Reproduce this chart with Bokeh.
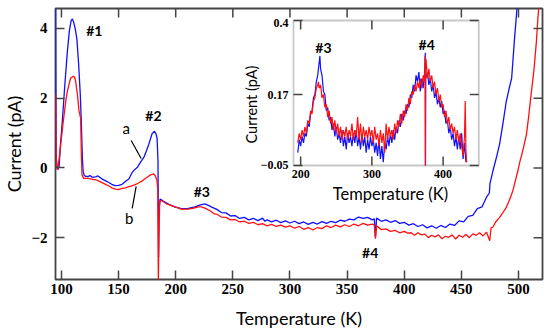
import math
from bokeh.plotting import figure
from bokeh.models import Range1d, FixedTicker, BoxAnnotation
from bokeh.core.properties import value
from bokeh.embed import file_html
from bokeh.resources import INLINE

# ---------------- data: main plot ----------------
X_TICKS = [100, 150, 200, 250, 300, 350, 400, 450, 500]
Y_TICKS = [-2, 0, 2, 4]
Y_TICK_LABELS = {-2: "\u22122", 0: "0", 2: "2", 4: "4"}

# curve a (blue)
A_T = [94.9, 95.3, 96.0, 97.0, 98.0, 99.0, 101.0, 103.0, 105.2, 107.0, 108.5, 109.6, 110.5, 112.0,
       113.5, 115.0, 116.5, 117.5, 118.3, 119.0, 120.0, 121.0, 123, 125, 127, 129.8, 132, 135.6, 138,
       141.5, 144, 147.2, 150, 153, 155, 157, 159, 161.9, 164, 166.3, 169.1, 172.1, 174.5, 176.5,
       179.3, 181.4, 182.7, 183.7, 184.5, 185.0, 185.4, 186.4, 189, 193.6, 199, 205, 211, 216.8,
       221, 225.5, 229, 232, 236, 240, 244, 248, 252, 256, 260, 264, 268, 272, 276, 278, 280, 284,
       288, 292, 296, 300, 304, 308, 312, 316, 320, 324, 328, 332, 336, 340, 344, 348, 352, 356,
       360, 364, 368, 372, 373.8, 374.8, 375.8, 380, 384, 388, 392, 396, 400, 404, 408, 412, 416,
       420, 424, 428, 432, 436, 440, 444, 448, 452, 456, 460, 464, 468, 472, 474.5, 475.0, 477.6,
       480.6, 483.5, 486.5, 489.3, 492, 494, 496.5, 499]
A_I = [4.7, 0.4, 0.05, -0.05, 0.05, 0.6, 1.45, 2.4, 3.34, 3.95, 4.22, 4.27, 4.2, 4.0,
       3.7, 3.0, 2.1, 1.2, 0.3, -0.1, -0.22, -0.24, -0.25, -0.22, -0.27, -0.26, -0.23, -0.32, -0.36,
       -0.42, -0.47, -0.51, -0.50, -0.47, -0.42, -0.36, -0.32, -0.13, -0.05, 0.01, 0.16, 0.30, 0.50, 0.68,
       0.98, 1.05, 0.98, 0.85, 0.2, -2.56, -1.2, -0.89, -0.95, -1.04, -1.12, -1.17, -1.16, -1.12,
       -1.07, -1.03, -1.08, -1.13, -1.19, -1.28, -1.29, -1.38, -1.37, -1.45, -1.42, -1.49, -1.45, -1.51, -1.44, -1.53, -1.49, -1.55,
       -1.50, -1.57, -1.52, -1.58, -1.53, -1.60, -1.55, -1.62, -1.56, -1.61, -1.54, -1.59, -1.53, -1.57, -1.50, -1.53, -1.47, -1.49,
       -1.41, -1.45, -1.42, -1.49, -1.46, -1.99, -1.44, -1.53, -1.49, -1.56, -1.51, -1.59, -1.56, -1.64, -1.60, -1.68, -1.63,
       -1.72, -1.66, -1.73, -1.65, -1.71, -1.61, -1.65, -1.52, -1.55, -1.39, -1.36, -1.17, -1.12, -0.84, -0.72, -0.45, -0.09,
       0.29, 0.69, 1.3, 1.91, 2.3, 2.57, 3.7, 4.7]

# curve b (red)
B_T = [94.9, 95.4, 96.2, 97.2, 98.3, 99.4, 101.5, 103.7, 105.2, 106.7, 108, 110.4, 111.5, 112.4,
       114, 115.4, 116.8, 117.5, 118, 119.5, 121, 124, 127, 130, 132.8, 136, 139, 141.5, 144, 147.2,
       150, 153, 156, 158.9, 161, 164.6, 167, 170.4, 173, 176.3, 178, 180.6, 182, 183.5, 184.3, 184.8,
       185.3, 186, 187.8, 192, 199.4, 205, 211, 216, 219.7, 222.6, 226, 230, 234,
       236, 240, 244, 248, 252, 256, 260, 264, 268, 272, 276, 280, 284, 288, 292, 296, 300, 304,
       308, 312, 316, 320, 324, 328, 332, 336, 340, 344, 348, 352, 356, 360, 364, 368, 372, 373.8,
       374.8, 375.8, 380, 384, 388, 392, 396, 400, 403, 406, 409, 412, 415, 418, 421, 424, 427, 430,
       433, 436, 439, 442, 445, 448, 451, 454, 457, 460, 463, 466, 469, 472, 474.8, 476, 477.6, 480,
       483.5, 486, 489.3, 492, 495, 497, 499.4, 501, 503.7, 507, 509, 511, 513.5, 515.6, 517, 518]
B_I = [2.1, 0.3, -0.05, 0.05, 0.35, 0.68, 1.3, 1.9, 2.2, 2.4, 2.57, 2.63, 2.6, 2.49,
       2.1, 1.63, 1.43, 0.3, -0.2, -0.3, -0.3, -0.3, -0.33, -0.34, -0.38, -0.43, -0.48, -0.52, -0.57, -0.61,
       -0.62, -0.59, -0.57, -0.54, -0.52, -0.48, -0.44, -0.38, -0.31, -0.24, -0.2, -0.17, -0.22, -0.35, -0.6, -3.3,
       -2.0, -0.95, -0.94, -1.03, -1.12, -1.18, -1.18, -1.15, -1.12, -1.12, -1.16, -1.23, -1.32,
       -1.33, -1.41, -1.42, -1.49, -1.48, -1.55, -1.53, -1.59, -1.56, -1.63, -1.60, -1.66, -1.62, -1.68, -1.64, -1.70, -1.66, -1.73,
       -1.68, -1.76, -1.71, -1.78, -1.71, -1.74, -1.66, -1.71, -1.64, -1.69, -1.63, -1.68, -1.61, -1.66, -1.59, -1.64, -1.61, -1.64,
       -2.03, -1.66, -1.77, -1.75, -1.82, -1.79, -1.86, -1.82, -1.87, -1.86, -1.93, -1.86, -1.92, -1.90, -2.00, -1.93, -1.98, -1.92,
       -2.03, -1.96, -1.99, -1.92, -2.04, -1.93, -1.99, -1.91, -2.00, -1.89, -1.93, -1.86, -1.95, -1.84, -2.09, -1.72, -1.70, -1.55,
       -1.42, -1.30, -1.13, -0.93, -0.66, -0.40, -0.09, 0.15, 0.49, 0.97, 1.5, 2.1, 2.8, 3.6, 4.3, 4.7]

# ---------------- data: inset ----------------
INSET_X_TICKS = [200, 300, 400]
INSET_X_TICK_LABELS = ["200", "300", "400"]
INSET_Y_TICKS = [-0.05, 0.17, 0.4]
INSET_Y_TICK_LABELS = ["\u22120.05", "0.17", "0.4"]

IA_T = [196, 198, 200, 202, 204, 206, 208, 210, 212, 214, 216, 218, 220, 222, 224, 226, 227, 228,
        230, 232, 234, 236, 238, 240, 242, 244, 246, 248, 250, 252, 254, 256, 258, 260, 262, 264,
        266, 268, 270, 272, 274, 276, 278, 280, 282, 284, 286, 288, 290, 292, 294, 296, 298, 300,
        302, 304, 306, 308, 310, 312, 314, 316, 318, 320, 322, 324, 326, 328, 330, 332, 334, 336,
        338, 340, 342, 344, 346, 348, 350, 352, 354, 356, 358, 360, 362, 364, 366, 368, 370, 372,
        374, 375, 375.3, 375.6, 378, 380, 382, 384, 386, 388, 390, 392, 394, 396, 398, 400, 402,
        404, 406, 408, 410, 412, 414, 416, 418, 420, 422, 424, 426, 428, 430, 432]
IA_I = [-0.01, 0.03, 0.01, 0.04, 0.02, 0.05, 0.04, 0.08, 0.07, 0.11, 0.12, 0.16, 0.17, 0.21, 0.23, 0.27, 0.29, 0.25,
        0.23, 0.18, 0.17, 0.12, 0.13, 0.09, 0.10, 0.06, 0.08, 0.04, 0.07, 0.03, 0.05, 0.02, 0.06, 0.01, 0.04, 0.00,
        0.05, 0.02, 0.04, 0.01, 0.05, 0.02, 0.06, 0.01, 0.04, 0.00, 0.05, 0.01, 0.04, -0.01, 0.03, 0.00, 0.04, 0.01,
        0.03, -0.01, 0.02, -0.02, 0.03, -0.03, 0.01, -0.04, 0.02, 0.00, 0.04, 0.01, 0.05, 0.02, 0.06, 0.03, 0.07, 0.05,
        0.09, 0.07, 0.11, 0.09, 0.12, 0.11, 0.14, 0.13, 0.17, 0.16, 0.20, 0.18, 0.23, 0.21, 0.24, 0.18, 0.22, 0.19,
        0.24, 0.30, -0.05, 0.22, 0.24, 0.20, 0.22, 0.18, 0.20, 0.16, 0.18, 0.14, 0.16, 0.13, 0.15, 0.11, 0.12,
        0.08, 0.09, 0.05, 0.07, 0.03, 0.05, 0.01, 0.04, 0.00, 0.04, 0.00, 0.05, -0.03, 0.02, -0.04]

IB_T = [196, 198, 200, 202, 204, 206, 208, 210, 212, 214, 216, 218, 220, 222, 224, 225, 226, 228,
        230, 232, 234, 236, 238, 240, 242, 244, 246, 248, 250, 252, 254, 256, 258, 260, 262, 264,
        266, 268, 270, 272, 274, 276, 278, 280, 282, 284, 286, 288, 290, 292, 294, 296, 298, 300,
        302, 304, 306, 308, 310, 312, 314, 316, 318, 320, 322, 324, 326, 328, 330, 332, 334, 336,
        338, 340, 342, 344, 346, 348, 350, 352, 354, 356, 358, 360, 362, 364, 366, 368, 370, 372,
        374, 374.7, 375.0, 375.3, 376, 378, 380, 382, 384, 386, 388, 390, 392, 394, 396, 398, 400,
        402, 404, 406, 408, 410, 412, 414, 416, 418, 420, 422, 424, 426, 428, 430, 431, 432, 433]
IB_I = [0.02, 0.05, 0.03, 0.06, 0.04, 0.07, 0.05, 0.09, 0.08, 0.12, 0.11, 0.15, 0.16, 0.19, 0.20, 0.21, 0.19, 0.20,
        0.16, 0.17, 0.13, 0.14, 0.10, 0.12, 0.08, 0.10, 0.06, 0.09, 0.05, 0.08, 0.04, 0.07, 0.03, 0.06, 0.04, 0.07,
        0.03, 0.06, 0.04, 0.08, 0.03, 0.06, 0.04, 0.10, 0.03, 0.08, 0.02, 0.07, 0.04, 0.06, 0.03, 0.07, 0.04, 0.06,
        0.02, 0.07, 0.03, 0.05, 0.01, 0.06, 0.02, 0.05, -0.01, 0.08, 0.03, 0.07, 0.04, 0.06, 0.03, 0.08, 0.05, 0.09,
        0.07, 0.11, 0.08, 0.12, 0.10, 0.14, 0.12, 0.16, 0.14, 0.18, 0.17, 0.20, 0.18, 0.21, 0.19, 0.22, 0.19, 0.23,
        0.21, 0.29, -0.05, 0.27, 0.28, 0.22, 0.25, 0.21, 0.23, 0.19, 0.21, 0.17, 0.19, 0.15, 0.17, 0.13, 0.14,
        0.10, 0.12, 0.08, 0.10, 0.06, 0.08, 0.05, 0.07, 0.03, 0.06, 0.02, 0.05, 0.01, -0.02, 0.04, 0.15, 0.00, -0.04]

# ---------------- layout constants ----------------
X0, X1 = 94.8, 521.0
Y0, Y1 = -3.2, 4.57
BOX_L, BOX_R, BOX_B, BOX_T = 303.1, 465.2, 0.069, 4.226   # inset frame, in main-data units
IX0, IX1 = 190.0, 450.0
IY0, IY1 = -0.05, 0.4

sx = (IX1 - IX0) / (BOX_R - BOX_L)
sy = (IY1 - IY0) / (BOX_T - BOX_B)
ix_start = IX0 - (BOX_L - X0) * sx
ix_end = IX1 + (X1 - BOX_R) * sx
iy_start = IY0 - (BOX_B - Y0) * sy
iy_end = IY1 + (Y1 - BOX_T) * sy

BLUE = "#1010ff"
RED = "#ff1010"
FRAME = "#444444"
SERIF = "Liberation Serif"
SANS = "Lato"
TICK = 9

p = figure(width=550, height=336, x_range=Range1d(X0, X1), y_range=Range1d(Y0, Y1),
           output_backend="svg", toolbar_location=None,
           min_border_left=53, min_border_right=8, min_border_top=8, min_border_bottom=57,
           x_axis_label="Temperature (K)", y_axis_label="Current (pA)")
p.grid.visible = False
p.outline_line_color = FRAME
p.outline_line_width = 1.8
p.background_fill_color = "white"
p.border_fill_color = "white"

for ax in (p.xaxis[0], p.yaxis[0]):
    ax.major_tick_in = TICK
    ax.major_tick_out = 0
    ax.minor_tick_in = 0
    ax.minor_tick_out = 0
    ax.axis_line_color = None
    ax.major_tick_line_color = FRAME
    ax.major_tick_line_width = 1.5
    ax.major_label_text_font = SERIF
    ax.major_label_text_font_style = "bold"
    ax.major_label_text_font_size = "15px"
    ax.major_label_text_color = "black"
    ax.axis_label_text_font = SANS
    ax.axis_label_text_font_size = "18px"
    ax.axis_label_text_font_style = "normal"
    ax.axis_label_text_color = "black"

p.xaxis[0].ticker = FixedTicker(ticks=X_TICKS)
p.yaxis[0].ticker = FixedTicker(ticks=Y_TICKS)
p.yaxis[0].major_label_overrides = Y_TICK_LABELS
p.xaxis[0].major_label_standoff = 4
p.xaxis[0].axis_label_standoff = 10
p.yaxis[0].major_label_standoff = 8
p.yaxis[0].axis_label_standoff = 3

# top / right ticks of main frame
p.ray(x=X_TICKS, y=[Y1] * len(X_TICKS), length=TICK, length_units="screen", angle=-math.pi / 2,
      line_color=FRAME, line_width=1.5)
p.ray(x=[X1] * len(Y_TICKS), y=Y_TICKS, length=TICK, length_units="screen", angle=math.pi,
      line_color=FRAME, line_width=1.5)

# main curves
p.line(A_T, A_I, line_color=BLUE, line_width=1.3, level="image")
p.line(B_T, B_I, line_color=RED, line_width=1.3, level="image")

# annotations main
lab_font = value(SANS)
p.text(x=[128.8, 180.5], y=[3.94, 1.50], text=["#1", "#2"], text_font=lab_font,
       text_font_size="14px", text_font_style="bold", text_align="center", text_baseline="middle",
       text_color="black")
p.text(x=[222.9, 370.2], y=[-0.69, -2.44], text=["#3", "#4"], text_font=lab_font,
       text_font_size="14px", text_font_style="bold", text_align="center", text_baseline="middle",
       text_color="black")
p.text(x=[156.7, 159.3], y=[1.13, -1.45], text=["a", "b"], text_font=lab_font,
       text_font_size="15px", text_align="center", text_baseline="middle", text_color="black")
p.segment(x0=[161.0, 161.9], y0=[0.786, -1.16], x1=[169.8, 165.4], y1=[0.27, -0.53],
          line_color="black", line_width=1.2)

# ---------------- inset ----------------
p.extra_x_ranges = {"ix": Range1d(ix_start, ix_end)}
p.extra_y_ranges = {"iy": Range1d(iy_start, iy_end)}

box = BoxAnnotation(left=BOX_L, right=BOX_R, bottom=BOX_B, top=BOX_T, fill_color="white",
                    fill_alpha=1.0, line_color=FRAME, line_width=1.8, level="underlay")
p.add_layout(box)

kw = dict(x_range_name="ix", y_range_name="iy")
p.line(IA_T, IA_I, line_color=BLUE, line_width=1.2, **kw)
p.line(IB_T, IB_I, line_color=RED, line_width=1.2, **kw)

n = len(INSET_X_TICKS)
m = len(INSET_Y_TICKS)
p.ray(x=INSET_X_TICKS, y=[IY0] * n, length=TICK, length_units="screen", angle=math.pi / 2,
      line_color=FRAME, line_width=1.5, **kw)
p.ray(x=INSET_X_TICKS, y=[IY1] * n, length=TICK, length_units="screen", angle=-math.pi / 2,
      line_color=FRAME, line_width=1.5, **kw)
p.ray(x=[IX0] * m, y=INSET_Y_TICKS, length=TICK, length_units="screen", angle=0,
      line_color=FRAME, line_width=1.5, **kw)
p.ray(x=[IX1] * m, y=INSET_Y_TICKS, length=TICK, length_units="screen", angle=math.pi,
      line_color=FRAME, line_width=1.5, **kw)

p.text(x=INSET_X_TICKS, y=[IY0] * n, text=INSET_X_TICK_LABELS, y_offset=5,
       text_font=value(SERIF), text_font_style="bold", text_font_size="12px",
       text_align="center", text_baseline="top", text_color="black", **kw)
p.text(x=[IX0] * m, y=INSET_Y_TICKS, text=INSET_Y_TICK_LABELS, x_offset=-5, y_offset=[0, 0, 3],
       text_font=value(SERIF), text_font_style="bold", text_font_size="12px",
       text_align="right", text_baseline="middle", text_color="black", **kw)

p.text(x=[326.0], y=[IY0], text=["Temperature (K)"], y_offset=29, text_font=value(SANS),
       text_font_size="16.5px", text_align="center", text_baseline="middle", text_color="black", **kw)
p.text(x=[IX0], y=[0.139], text=["Current (pA)"], x_offset=-42, angle=math.pi / 2,
       text_font=value(SANS), text_font_size="14.5px", text_align="center", text_baseline="middle",
       text_color="black", **kw)

p.text(x=[232.0, 377.0], y=[0.315, 0.3255], text=["#3", "#4"], text_font=value(SANS),
       text_font_size="14px", text_font_style="bold", text_align="center", text_baseline="middle",
       text_color="black", **kw)

open("out.html", "w").write(file_html(p, INLINE))
